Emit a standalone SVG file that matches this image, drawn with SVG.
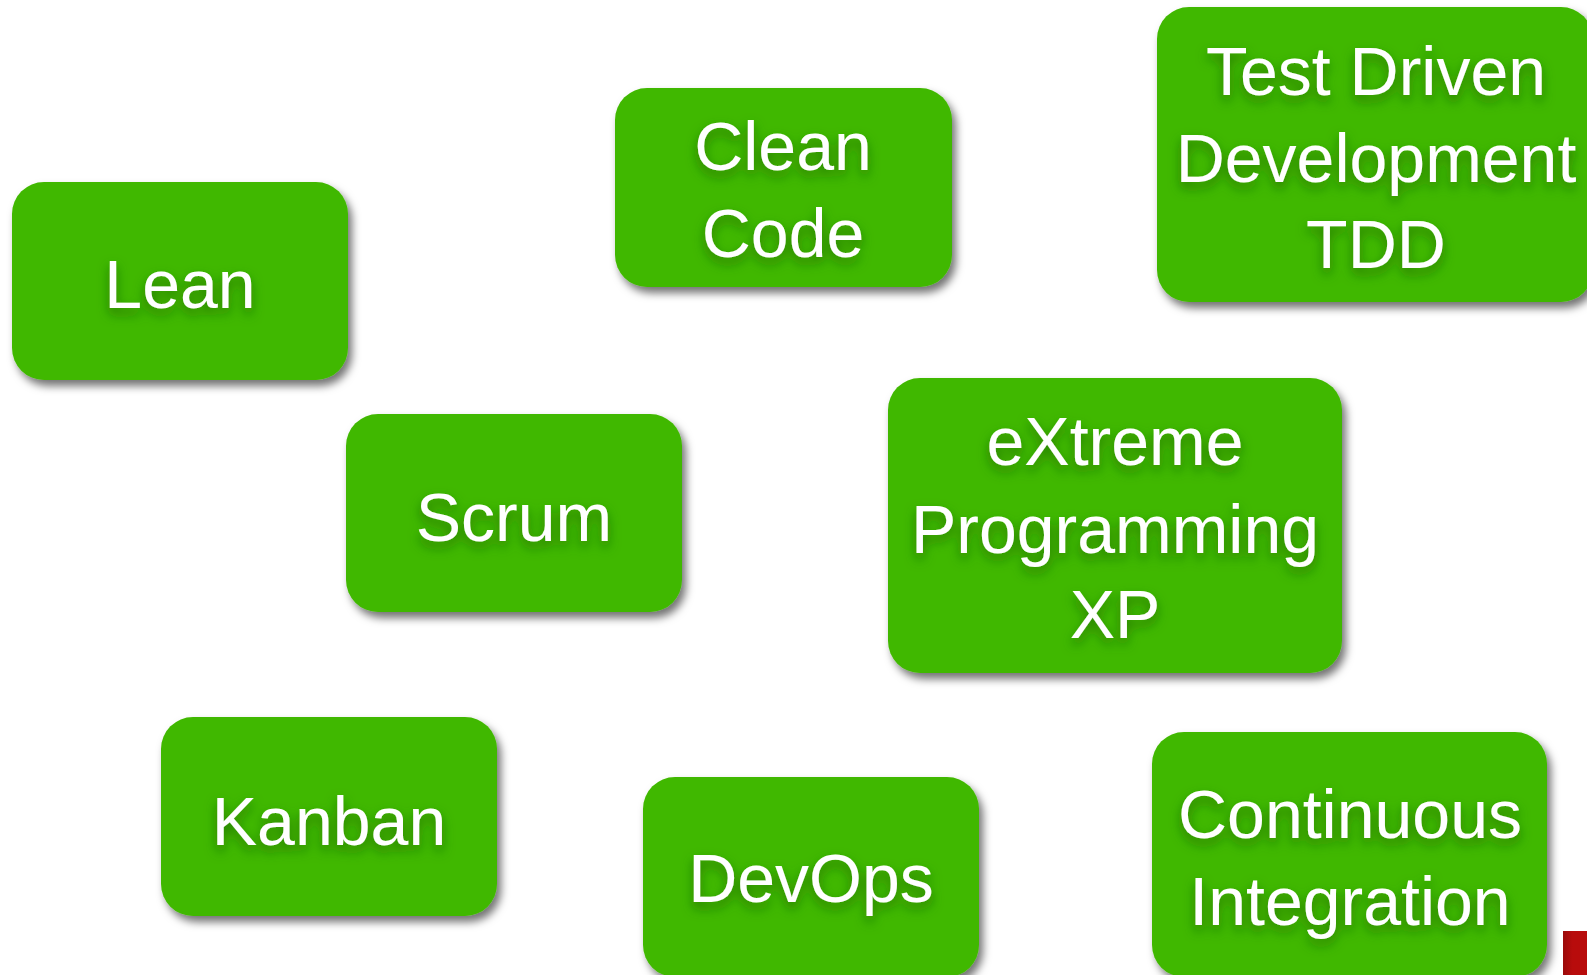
<svg xmlns="http://www.w3.org/2000/svg" width="1587" height="975" viewBox="0 0 1587 975">
<defs>
<filter id="boxShadow" x="-10%" y="-10%" width="125%" height="130%">
<feDropShadow dx="4" dy="6" stdDeviation="4" flood-color="#000" flood-opacity="0.55"/>
</filter>
<filter id="textShadow" x="-10%" y="-30%" width="120%" height="170%">
<feDropShadow dx="0" dy="6" stdDeviation="6" flood-color="#1c6400" flood-opacity="0.75"/>
</filter>
<linearGradient id="redGrad" x1="0" y1="0" x2="1" y2="0">
<stop offset="0" stop-color="#9a0a0a"/>
<stop offset="0.4" stop-color="#b80c0c"/>
<stop offset="1" stop-color="#b80c0c"/>
</linearGradient>
</defs>
<style>
.box{fill:#41b803;filter:url(#boxShadow);}
.lbl{fill:#ffffff;font-family:"Liberation Sans",Arial,Helvetica,sans-serif;font-size:68px;text-anchor:middle;filter:url(#textShadow);}
</style>
<rect width="1587" height="975" fill="#ffffff"/>
<g id="node-lean">
<rect class="box" x="12" y="182" width="336" height="198" rx="32"/>
<text class="lbl" x="180" y="308">Lean</text>
</g>
<g id="node-cleancode">
<rect class="box" x="615" y="88" width="337" height="199" rx="32"/>
<text class="lbl" x="783" y="170">Clean</text>
<text class="lbl" x="783" y="257">Code</text>
</g>
<g id="node-tdd">
<rect class="box" x="1157" y="7" width="436" height="295" rx="32"/>
<text class="lbl" x="1376" y="95">Test Driven</text>
<text class="lbl" x="1376" y="182">Development</text>
<text class="lbl" x="1376" y="268">TDD</text>
</g>
<g id="node-scrum">
<rect class="box" x="346" y="414" width="336" height="198" rx="32"/>
<text class="lbl" x="514" y="541">Scrum</text>
</g>
<g id="node-xp">
<rect class="box" x="888" y="378" width="454" height="295" rx="32"/>
<text class="lbl" x="1115" y="465">eXtreme</text>
<text class="lbl" x="1115" y="553">Programming</text>
<text class="lbl" x="1115" y="638">XP</text>
</g>
<g id="node-kanban">
<rect class="box" x="161" y="717" width="336" height="199" rx="32"/>
<text class="lbl" x="329" y="845">Kanban</text>
</g>
<g id="node-devops">
<rect class="box" x="643" y="777" width="336" height="200" rx="32"/>
<text class="lbl" x="811" y="902">DevOps</text>
</g>
<g id="node-ci">
<rect class="box" x="1152" y="732" width="395" height="245" rx="32"/>
<text class="lbl" x="1350" y="838">Continuous</text>
<text class="lbl" x="1350" y="925">Integration</text>
</g>
<g id="corner-mark">
<rect x="1563" y="931" width="24" height="44" fill="url(#redGrad)"/>
</g>
</svg>
